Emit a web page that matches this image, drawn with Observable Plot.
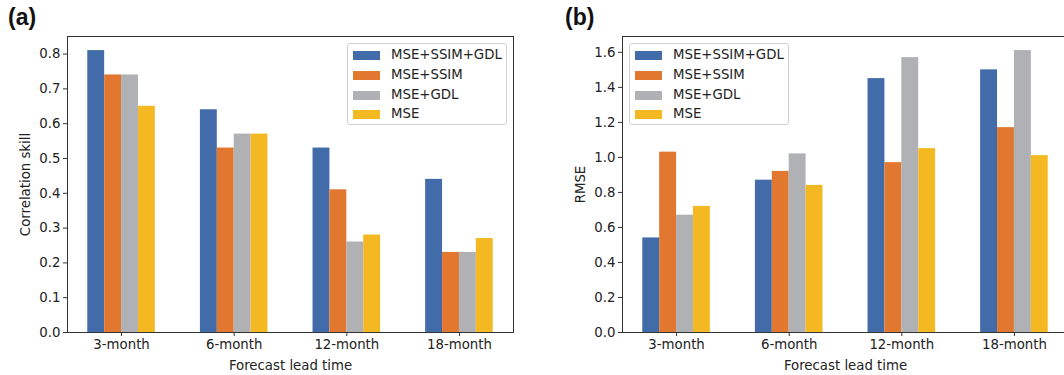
<!DOCTYPE html>
<html><head><meta charset="utf-8">
<script src="https://cdn.jsdelivr.net/npm/d3@7"></script>
<script src="https://cdn.jsdelivr.net/npm/@observablehq/plot@0.6"></script>
<style>
body{margin:0;background:#fff;font-family:"DejaVu Sans",sans-serif;}
#fig{position:relative;width:1064px;height:375px;overflow:hidden;background:#fff;}
.panel{position:absolute;top:0;}
.panel svg{max-width:none !important;display:block;}
.tag{position:absolute;font-family:"Liberation Sans",Arial,sans-serif;font-weight:bold;font-size:23px;color:#111;line-height:1;}
.legend{position:absolute;box-sizing:border-box;border:1px solid #d0d0d0;border-radius:3px;background:rgba(255,255,255,0.85);font-size:13.3px;color:#222;}
.row{position:absolute;left:0;height:20px;}
.patch{position:absolute;left:5px;top:6px;width:27px;height:9px;}
.lab{position:absolute;left:43px;top:1px;white-space:nowrap;line-height:18px;}
</style></head>
<body><div id="fig"></div>
<script>
const leadTimes = ["3-month", "6-month", "12-month", "18-month"];
const models = ["MSE+SSIM+GDL", "MSE+SSIM", "MSE+GDL", "MSE"];
const colors = ["#416ba9", "#e2782f", "#b0b1b4", "#f4b922"];

// (a) Correlation skill, per model, across lead times
const corrMSE_SSIM_GDL = [0.81, 0.64, 0.53, 0.44];
const corrMSE_SSIM     = [0.74, 0.53, 0.41, 0.23];
const corrMSE_GDL      = [0.74, 0.57, 0.26, 0.23];
const corrMSE          = [0.65, 0.57, 0.28, 0.27];

// (b) RMSE, per model, across lead times
const rmseMSE_SSIM_GDL = [0.54, 0.87, 1.45, 1.50];
const rmseMSE_SSIM     = [1.03, 0.92, 0.97, 1.17];
const rmseMSE_GDL      = [0.67, 1.02, 1.57, 1.61];
const rmseMSE          = [0.72, 0.84, 1.05, 1.01];

const corrTicks = [0, 0.1, 0.2, 0.3, 0.4, 0.5, 0.6, 0.7, 0.8];
const rmseTicks = [0, 0.2, 0.4, 0.6, 0.8, 1.0, 1.2, 1.4, 1.6];

const barWidth = 0.15;

function table(series) {
  const rows = [];
  series.forEach((vals, si) => vals.forEach((v, gi) => rows.push({
    gi, si, lead: leadTimes[gi], model: models[si], value: v
  })));
  return rows;
}

function panel({series, ticks, ymax, ylabel, width, marginLeft, marginRight}) {
  const data = table(series);
  const nG = leadTimes.length, nS = models.length;
  const half = nS * barWidth / 2;
  const xmin = -half, xmax = nG - 1 + half;
  const pad = (xmax - xmin) * 0.05;
  return Plot.plot({
    width, height: 375,
    marginLeft, marginRight, marginTop: 36, marginBottom: 43,
    style: {fontFamily: "DejaVu Sans, sans-serif", fontSize: "13.3px", color: "#222", background: "transparent", maxWidth: "none"},
    x: {domain: [xmin - pad, xmax + pad]},
    y: {domain: [0, ymax]},
    color: {domain: models, range: colors},
    marks: [
      Plot.rectY(data, {
        x1: d => d.gi - half + d.si * barWidth,
        x2: d => d.gi - half + (d.si + 1) * barWidth,
        y: "value", fill: "model"
      }),
      Plot.frame({stroke: "#333", strokeWidth: 1}),
      Plot.axisY({ticks, tickFormat: d3.format(".1f"), tickSize: 4, tickPadding: 3, label: null, stroke: "#333"}),
      Plot.axisX({ticks: d3.range(nG), tickFormat: i => leadTimes[i], tickSize: 4, tickPadding: 3, label: null, stroke: "#333"}),
      Plot.text(["Forecast lead time"], {frameAnchor: "bottom", lineAnchor: "middle", dy: 33, fill: "#222"}),
      Plot.text([ylabel], {frameAnchor: "left", rotate: -90, textAnchor: "middle", lineAnchor: "middle", dx: -42, fill: "#222"})
    ]
  });
}

const fig = document.getElementById("fig");

function addPanel(left, opts, tag, tagLeft, legendLeft) {
  const wrap = document.createElement("div");
  wrap.className = "panel";
  wrap.style.left = left + "px";
  wrap.style.width = opts.width + "px";
  wrap.style.height = "375px";
  wrap.appendChild(panel(opts));
  fig.appendChild(wrap);

  const t = document.createElement("div");
  t.className = "tag";
  t.style.left = tagLeft + "px";
  t.style.top = "6px";
  t.textContent = tag;
  fig.appendChild(t);

  const lg = document.createElement("div");
  lg.className = "legend";
  lg.style.left = legendLeft + "px";
  lg.style.top = "43px";
  lg.style.width = "160px";
  lg.style.height = "82px";
  models.forEach((m, i) => {
    const r = document.createElement("div");
    r.className = "row";
    r.style.top = (1 + i * 19.8) + "px";
    const p = document.createElement("div");
    p.className = "patch";
    p.style.background = colors[i];
    const l = document.createElement("div");
    l.className = "lab";
    l.textContent = m;
    r.appendChild(p); r.appendChild(l);
    lg.appendChild(r);
  });
  fig.appendChild(lg);
}

addPanel(0, {
  series: [corrMSE_SSIM_GDL, corrMSE_SSIM, corrMSE_GDL, corrMSE],
  ticks: corrTicks, ymax: 0.81 * 1.05, ylabel: "Correlation skill",
  width: 530, marginLeft: 67, marginRight: 17
}, "(a)", 8, 347);

addPanel(530, {
  series: [rmseMSE_SSIM_GDL, rmseMSE_SSIM, rmseMSE_GDL, rmseMSE],
  ticks: rmseTicks, ymax: 1.61 * 1.05, ylabel: "RMSE",
  width: 560, marginLeft: 92, marginRight: 22
}, "(b)", 565, 629);
</script>
</body></html>
